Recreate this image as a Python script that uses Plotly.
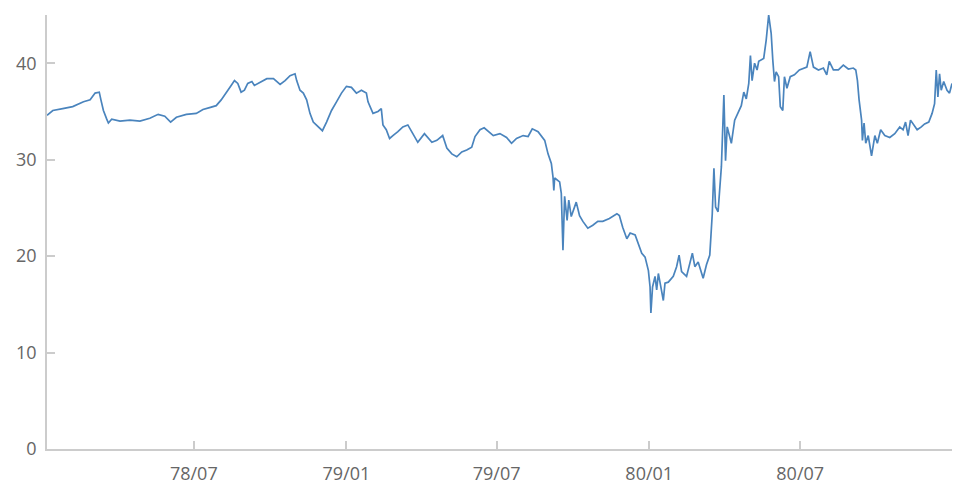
import plotly.graph_objs as go

# Serie (fecha, valor)
fechas = [
    "1978-01-05", "1978-01-12", "1978-01-24", "1978-02-05", "1978-02-18", "1978-02-26",
    "1978-03-04", "1978-03-09", "1978-03-11", "1978-03-14", "1978-03-18", "1978-03-20",
    "1978-03-24", "1978-04-03", "1978-04-15", "1978-04-27", "1978-05-09", "1978-05-19",
    "1978-05-27", "1978-06-03", "1978-06-10", "1978-06-22", "1978-07-04", "1978-07-12",
    "1978-07-20", "1978-07-28", "1978-08-03", "1978-08-09", "1978-08-15", "1978-08-19",
    "1978-08-23", "1978-08-27", "1978-08-31", "1978-09-04", "1978-09-09", "1978-09-12",
    "1978-09-19", "1978-09-27", "1978-10-05", "1978-10-13", "1978-10-19", "1978-10-25",
    "1978-10-31", "1978-11-02", "1978-11-06", "1978-11-10", "1978-11-14", "1978-11-18",
    "1978-11-22", "1978-11-28", "1978-12-03", "1978-12-08", "1978-12-14", "1978-12-20",
    "1978-12-26", "1979-01-01", "1979-01-07", "1979-01-13", "1979-01-19", "1979-01-25",
    "1979-01-27", "1979-02-02", "1979-02-08", "1979-02-12", "1979-02-14", "1979-02-18",
    "1979-02-22", "1979-02-26", "1979-03-04", "1979-03-10", "1979-03-16", "1979-03-22",
    "1979-03-28", "1979-04-05", "1979-04-14", "1979-04-20", "1979-04-27", "1979-05-02",
    "1979-05-08", "1979-05-14", "1979-05-20", "1979-05-26", "1979-06-01", "1979-06-05",
    "1979-06-11", "1979-06-16", "1979-06-21", "1979-06-27", "1979-07-05", "1979-07-13",
    "1979-07-19", "1979-07-25", "1979-08-02", "1979-08-08", "1979-08-13", "1979-08-20",
    "1979-08-28", "1979-09-01", "1979-09-05", "1979-09-07", "1979-09-08", "1979-09-09",
    "1979-09-15", "1979-09-17", "1979-09-19", "1979-09-21", "1979-09-24", "1979-09-26",
    "1979-09-29", "1979-10-05", "1979-10-09", "1979-10-13", "1979-10-19", "1979-10-25",
    "1979-10-31", "1979-11-06", "1979-11-14", "1979-11-23", "1979-11-26", "1979-11-30",
    "1979-12-05", "1979-12-09", "1979-12-15", "1979-12-19", "1979-12-23", "1979-12-27",
    "1979-12-31", "1980-01-02", "1980-01-03", "1980-01-05", "1980-01-08", "1980-01-10",
    "1980-01-12", "1980-01-15", "1980-01-18", "1980-01-20", "1980-01-24", "1980-01-30",
    "1980-02-03", "1980-02-06", "1980-02-09", "1980-02-15", "1980-02-22", "1980-02-25",
    "1980-02-29", "1980-03-06", "1980-03-10", "1980-03-14", "1980-03-17", "1980-03-19",
    "1980-03-21", "1980-03-24", "1980-03-28", "1980-03-31", "1980-04-02", "1980-04-04",
    "1980-04-09", "1980-04-13", "1980-04-17", "1980-04-21", "1980-04-24", "1980-04-27",
    "1980-04-30", "1980-05-02", "1980-05-04", "1980-05-07", "1980-05-10", "1980-05-12",
    "1980-05-18", "1980-05-21", "1980-05-24", "1980-05-27", "1980-05-29", "1980-05-31",
    "1980-06-02", "1980-06-05", "1980-06-07", "1980-06-10", "1980-06-12", "1980-06-15",
    "1980-06-19", "1980-06-24", "1980-06-30", "1980-07-04", "1980-07-09", "1980-07-13",
    "1980-07-17", "1980-07-23", "1980-07-29", "1980-08-02", "1980-08-05", "1980-08-10",
    "1980-08-16", "1980-08-22", "1980-08-28", "1980-09-03", "1980-09-06", "1980-09-08",
    "1980-09-10", "1980-09-13", "1980-09-14", "1980-09-16", "1980-09-18", "1980-09-21",
    "1980-09-25", "1980-09-29", "1980-10-02", "1980-10-06", "1980-10-11", "1980-10-17",
    "1980-10-23", "1980-10-29", "1980-11-02", "1980-11-05", "1980-11-08", "1980-11-11",
    "1980-11-15", "1980-11-19", "1980-11-24", "1980-11-28", "1980-12-03", "1980-12-07",
    "1980-12-10", "1980-12-12", "1980-12-14", "1980-12-16", "1980-12-18", "1980-12-21",
    "1980-12-25", "1980-12-28", "1980-12-31",
]
valores = [
    34.6, 35.1, 35.3, 35.5, 36.0, 36.2,
    36.9, 37.0, 36.2, 35.1, 34.2, 33.8,
    34.2, 34.0, 34.1, 34.0, 34.3, 34.7,
    34.5, 33.9, 34.4, 34.7, 34.8, 35.2,
    35.4, 35.6, 36.2, 36.9, 37.7, 38.2,
    37.9, 37.0, 37.2, 37.9, 38.1, 37.7,
    38.0, 38.4, 38.4, 37.8, 38.2, 38.7,
    38.9, 38.2, 37.2, 36.9, 36.2, 34.8,
    33.9, 33.4, 33.0, 33.9, 35.1, 36.0,
    36.9, 37.6, 37.5, 36.9, 37.2, 36.9,
    36.0, 34.8, 35.0, 35.3, 33.6, 33.1,
    32.2, 32.5, 32.9, 33.4, 33.6, 32.7,
    31.8, 32.7, 31.8, 32.0, 32.5, 31.2,
    30.6, 30.3, 30.8, 31.0, 31.3, 32.4,
    33.1, 33.3, 32.9, 32.5, 32.7, 32.3,
    31.7, 32.2, 32.5, 32.4, 33.2, 32.9,
    32.0, 30.6, 29.6, 28.2, 26.8, 28.1,
    27.7, 26.5, 20.6, 26.2, 23.7, 25.8,
    24.1, 25.6, 24.2, 23.6, 22.9, 23.2,
    23.6, 23.6, 23.9, 24.4, 24.2, 23.0,
    21.8, 22.4, 22.2, 21.3, 20.3, 19.9,
    18.5, 16.8, 14.1, 16.8, 17.9, 16.5,
    18.2, 16.8, 15.4, 17.2, 17.3, 17.9,
    18.9, 20.1, 18.4, 17.9, 20.3, 18.9,
    19.4, 17.7, 19.1, 20.1, 24.4, 29.1,
    25.1, 24.6, 29.3, 36.7, 29.9, 33.4,
    31.7, 34.1, 34.8, 35.6, 37.0, 36.3,
    37.9, 40.8, 38.2, 40.0, 39.3, 40.2,
    40.5, 42.4, 45.0, 43.1, 40.3, 38.1,
    39.1, 38.6, 35.5, 35.1, 38.6, 37.4,
    38.6, 38.8, 39.3, 39.4, 39.6, 41.2,
    39.6, 39.3, 39.5, 38.8, 40.2, 39.3,
    39.3, 39.8, 39.4, 39.5, 39.3, 38.2,
    36.2, 34.1, 32.0, 33.8, 31.7, 32.5,
    30.4, 32.5, 31.7, 33.1, 32.5, 32.3,
    32.7, 33.4, 33.1, 33.9, 32.5, 34.1,
    33.6, 33.1, 33.4, 33.7, 33.9, 34.8,
    35.8, 39.3, 36.5, 38.9, 37.2, 38.1,
    37.2, 36.9, 37.9,
]

ticks_x = ["1978-07-01", "1979-01-01", "1979-07-01", "1980-01-01", "1980-07-01"]
etiquetas_x = ["78/07", "79/01", "79/07", "80/01", "80/07"]
ticks_y = [0, 10, 20, 30, 40]

gris = "#cccccc"
fuente = dict(family="Open Sans, sans-serif", size=18, color="#666666")

data = [
    go.Scatter(
        x=fechas,
        y=valores,
        mode="lines",
        line=dict(color="#4a84bd", width=1.7),
        hoverinfo="x+y",
    )
]

# La pagina tiene un margen de 8px alrededor de la figura.
layout = go.Layout(
    width=954,
    height=478,
    margin=dict(l=39, r=10, t=7, b=37),
    paper_bgcolor="white",
    plot_bgcolor="white",
    showlegend=False,
    font=fuente,
    xaxis=dict(
        type="date",
        range=["1978-01-05", "1980-12-31"],
        tickvals=ticks_x,
        ticktext=etiquetas_x,
        showgrid=False,
        zeroline=False,
        showline=True,
        linecolor=gris,
        linewidth=1.5,
        ticks="inside",
        ticklen=8,
        tickcolor=gris,
        tickwidth=1.5,
        tickfont=fuente,
        ticklabelstandoff=8,
        automargin=False,
    ),
    yaxis=dict(
        range=[0, 45],
        tickvals=ticks_y,
        showgrid=False,
        zeroline=False,
        showline=True,
        linecolor=gris,
        linewidth=1.5,
        ticks="inside",
        ticklen=8,
        tickcolor=gris,
        tickwidth=1.5,
        tickfont=fuente,
        ticklabelstandoff=5,
        automargin=False,
    ),
)

fig = go.Figure(data=data, layout=layout)
fig.write_html("out.html")
